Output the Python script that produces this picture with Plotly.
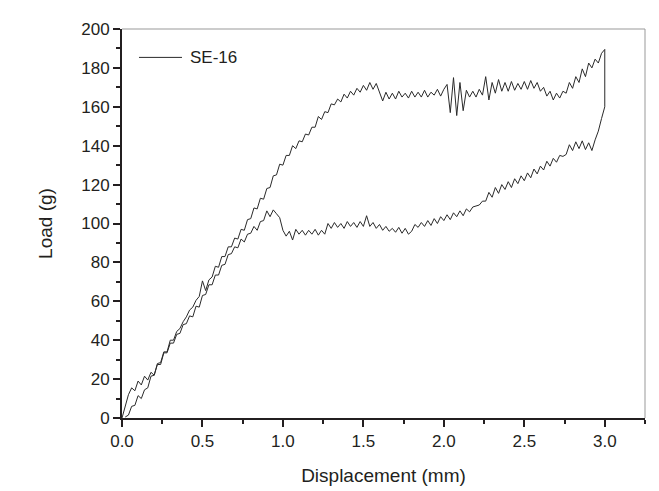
import plotly.graph_objects as go

# Loading branch (displacement in mm, load in g)
disp_loading = [
    0.00, 0.02, 0.04, 0.06, 0.08, 0.10, 0.12, 0.14, 0.16, 0.18,
    0.20, 0.22, 0.24, 0.26, 0.28, 0.30, 0.32, 0.34, 0.36, 0.38,
    0.40, 0.42, 0.44, 0.46, 0.48, 0.50, 0.52, 0.54, 0.56, 0.58,
    0.60, 0.62, 0.64, 0.66, 0.68, 0.70, 0.72, 0.74, 0.76, 0.78,
    0.80, 0.82, 0.84, 0.86, 0.88, 0.90, 0.92, 0.94, 0.96, 0.98,
    1.00, 1.02, 1.04, 1.06, 1.08, 1.10, 1.12, 1.14, 1.16, 1.18,
    1.20, 1.22, 1.24, 1.26, 1.28, 1.30, 1.32, 1.34, 1.36, 1.38,
    1.40, 1.42, 1.44, 1.46, 1.48, 1.50, 1.52, 1.54, 1.56, 1.58,
    1.60, 1.62, 1.64, 1.66, 1.68, 1.70, 1.72, 1.74, 1.76, 1.78,
    1.80, 1.82, 1.84, 1.86, 1.88, 1.90, 1.92, 1.94, 1.96, 1.98,
    2.00, 2.02, 2.04, 2.06, 2.08, 2.10, 2.12, 2.14, 2.16, 2.18,
    2.20, 2.22, 2.24, 2.26, 2.28, 2.30, 2.32, 2.34, 2.36, 2.38,
    2.40, 2.42, 2.44, 2.46, 2.48, 2.50, 2.52, 2.54, 2.56, 2.58,
    2.60, 2.62, 2.64, 2.66, 2.68, 2.70, 2.72, 2.74, 2.76, 2.78,
    2.80, 2.82, 2.84, 2.86, 2.88, 2.90, 2.92, 2.94, 2.96, 2.98,
    3.00,
]
load_loading = [
    0.0, 5.5, 12.0, 15.5, 14.0, 19.0, 17.0, 21.5, 19.5, 23.5,
    22.0, 28.0, 28.5, 34.0, 34.0, 40.0, 40.0, 44.5, 46.0, 49.5,
    52.0, 55.5, 57.0, 60.5, 62.5, 70.5, 65.5, 71.0, 72.5, 78.0,
    77.5, 83.0, 83.0, 88.0, 88.0, 92.5, 92.0, 97.0, 96.5, 102.0,
    102.5, 108.0, 107.5, 113.0, 112.5, 118.0, 118.5, 124.5, 125.0, 130.5,
    130.0, 135.0, 135.0, 140.0, 138.5, 142.5, 142.0, 146.0, 145.5, 149.5,
    149.5, 155.0, 153.5, 157.5, 157.0, 161.5, 161.0, 164.0, 162.5, 166.5,
    164.5, 168.0, 166.0, 169.5, 167.5, 171.0, 168.5, 172.5, 169.0, 172.0,
    168.0, 163.0, 167.5, 164.0, 167.0, 164.0, 168.0, 165.0, 167.0, 164.5,
    168.0, 165.0, 167.5, 165.0, 168.5, 165.0, 167.5, 166.0, 169.0, 165.5,
    169.0, 171.5, 157.0, 175.0, 155.5, 172.5, 158.0, 168.5, 165.0, 168.0,
    165.0, 169.0, 166.0, 175.5, 163.5, 172.5, 167.0, 174.0, 168.0, 172.5,
    168.0, 173.0, 168.5, 172.0, 169.0, 173.0, 169.0, 173.5, 169.5, 172.5,
    168.0, 170.0, 165.5, 168.0, 163.5, 167.0, 164.5, 168.0, 167.0, 172.5,
    169.5, 175.5, 172.5, 179.5, 175.5, 182.5, 180.0, 184.5, 182.5, 187.5,
    189.5,
]

# Unloading branch, from 3.00 mm back to the origin
disp_unloading = [
    3.00, 2.98, 2.96, 2.94, 2.92, 2.90, 2.88, 2.86, 2.84, 2.82,
    2.80, 2.78, 2.76, 2.74, 2.72, 2.70, 2.68, 2.66, 2.64, 2.62,
    2.60, 2.58, 2.56, 2.54, 2.52, 2.50, 2.48, 2.46, 2.44, 2.42,
    2.40, 2.38, 2.36, 2.34, 2.32, 2.30, 2.28, 2.26, 2.24, 2.22,
    2.20, 2.18, 2.16, 2.14, 2.12, 2.10, 2.08, 2.06, 2.04, 2.02,
    2.00, 1.98, 1.96, 1.94, 1.92, 1.90, 1.88, 1.86, 1.84, 1.82,
    1.80, 1.78, 1.76, 1.74, 1.72, 1.70, 1.68, 1.66, 1.64, 1.62,
    1.60, 1.58, 1.56, 1.54, 1.52, 1.50, 1.48, 1.46, 1.44, 1.42,
    1.40, 1.38, 1.36, 1.34, 1.32, 1.30, 1.28, 1.26, 1.24, 1.22,
    1.20, 1.18, 1.16, 1.14, 1.12, 1.10, 1.08, 1.06, 1.04, 1.02,
    1.00, 0.98, 0.96, 0.94, 0.92, 0.90, 0.88, 0.86, 0.84, 0.82,
    0.80, 0.78, 0.76, 0.74, 0.72, 0.70, 0.68, 0.66, 0.64, 0.62,
    0.60, 0.58, 0.56, 0.54, 0.52, 0.50, 0.48, 0.46, 0.44, 0.42,
    0.40, 0.38, 0.36, 0.34, 0.32, 0.30, 0.28, 0.26, 0.24, 0.22,
    0.20, 0.18, 0.16, 0.14, 0.12, 0.10, 0.08, 0.06, 0.04, 0.02,
]
load_unloading = [
    160.0, 154.0, 147.5, 143.0, 137.5, 141.5, 138.0, 142.5, 138.5, 142.0,
    137.5, 140.5, 135.5, 134.5, 135.0, 131.5, 133.5, 129.5, 132.0, 127.5,
    129.5, 125.5, 128.0, 123.5, 126.0, 122.0, 124.5, 120.5, 123.0, 118.5,
    121.5, 117.5, 120.0, 115.5, 118.5, 113.5, 116.0, 111.5, 111.5, 109.5,
    109.0, 108.5, 106.0, 107.5, 104.0, 106.5, 103.5, 105.5, 102.0, 104.5,
    101.5, 103.5, 100.0, 102.5, 99.0, 101.5, 98.5, 100.5, 98.0, 99.5,
    96.0, 94.5, 97.5, 95.0, 98.0, 95.5, 97.5, 96.0, 98.5, 96.5,
    99.5, 97.5, 100.5, 98.5, 104.0, 98.5, 101.0, 98.0, 100.5, 98.5,
    101.0, 97.5, 100.0, 98.0, 100.5, 97.5, 100.0, 94.5, 96.5, 94.0,
    97.0, 94.5, 96.5, 94.0, 96.5, 94.5, 97.0, 91.5, 96.0, 93.5,
    96.5, 103.0, 105.0, 107.0, 103.5, 106.5, 101.5, 101.0, 96.5, 98.5,
    95.0, 94.5, 90.5, 92.0, 87.5, 88.0, 84.5, 84.0, 79.0, 78.5,
    73.5, 73.5, 68.5, 68.5, 63.5, 63.0, 57.0, 57.5, 52.0, 52.5,
    48.5, 48.0, 43.5, 43.0, 38.5, 38.5, 33.5, 33.5, 27.5, 27.5,
    22.0, 21.5, 15.5, 14.5, 10.0, 11.5, 6.5, 6.0, 1.5, 0.5,
]

series_name = "SE-16"
x_title = "Displacement (mm)"
y_title = "Load (g)"

disp = disp_loading + disp_unloading
load = load_loading + load_unloading

FONT = "Liberation Sans, Arial, sans-serif"
AX = "#231f20"
TXT = "#231f20"

fig = go.Figure()
fig.add_trace(go.Scatter(
    x=disp, y=load, mode="lines", name=series_name,
    line=dict(color="#2a2a2a", width=1.0), showlegend=False,
))

common = dict(
    showgrid=False, zeroline=False, showline=True, linecolor=AX, linewidth=2,
    ticks="outside", ticklen=7, tickwidth=1.6, tickcolor=AX,
    tickfont=dict(family=FONT, size=17, color=TXT),
    mirror=False,
)

# legend drawn as a short line + text label (matches the original's long legend sample)
leg_x0, leg_x1, leg_y, leg_tx = 0.0325, 0.1147, 0.927, 0.126

fig.update_layout(
    width=659, height=491,
    margin=dict(l=114, r=22, t=13, b=81),
    paper_bgcolor="white", plot_bgcolor="white",
    font=dict(family=FONT, color=TXT),
    xaxis=dict(
        range=[0, 3.25], tick0=0, dtick=0.5, tickformat=".1f",
        title=dict(text=x_title, font=dict(family=FONT, size=19, color=TXT), standoff=18),
        minor=dict(dtick=0.25, tick0=0, ticks="outside", ticklen=4, tickwidth=1.6, tickcolor=AX, showgrid=False),
        **common,
    ),
    yaxis=dict(
        range=[0, 200], tick0=0, dtick=20,
        title=dict(text=y_title, font=dict(family=FONT, size=19, color=TXT), standoff=24),
        minor=dict(dtick=10, tick0=0, ticks="outside", ticklen=4, tickwidth=1.6, tickcolor=AX, showgrid=False),
        **common,
    ),
    showlegend=False,
    shapes=[
        dict(type="line", xref="paper", yref="paper", x0=0, x1=1, y0=1, y1=1,
             line=dict(color="#999999", width=1)),
        dict(type="line", xref="paper", yref="paper", x0=1, x1=1, y0=0, y1=1,
             line=dict(color="#999999", width=1)),
        dict(type="line", xref="paper", yref="paper", x0=leg_x0, x1=leg_x1, y0=leg_y, y1=leg_y,
             line=dict(color="#2a2a2a", width=1)),
    ],
    annotations=[
        dict(text=series_name, xref="paper", yref="paper", x=leg_tx, y=leg_y,
             xanchor="left", yanchor="middle", showarrow=False,
             font=dict(family=FONT, size=17, color=TXT)),
    ],
)

fig.write_html("out.html")
